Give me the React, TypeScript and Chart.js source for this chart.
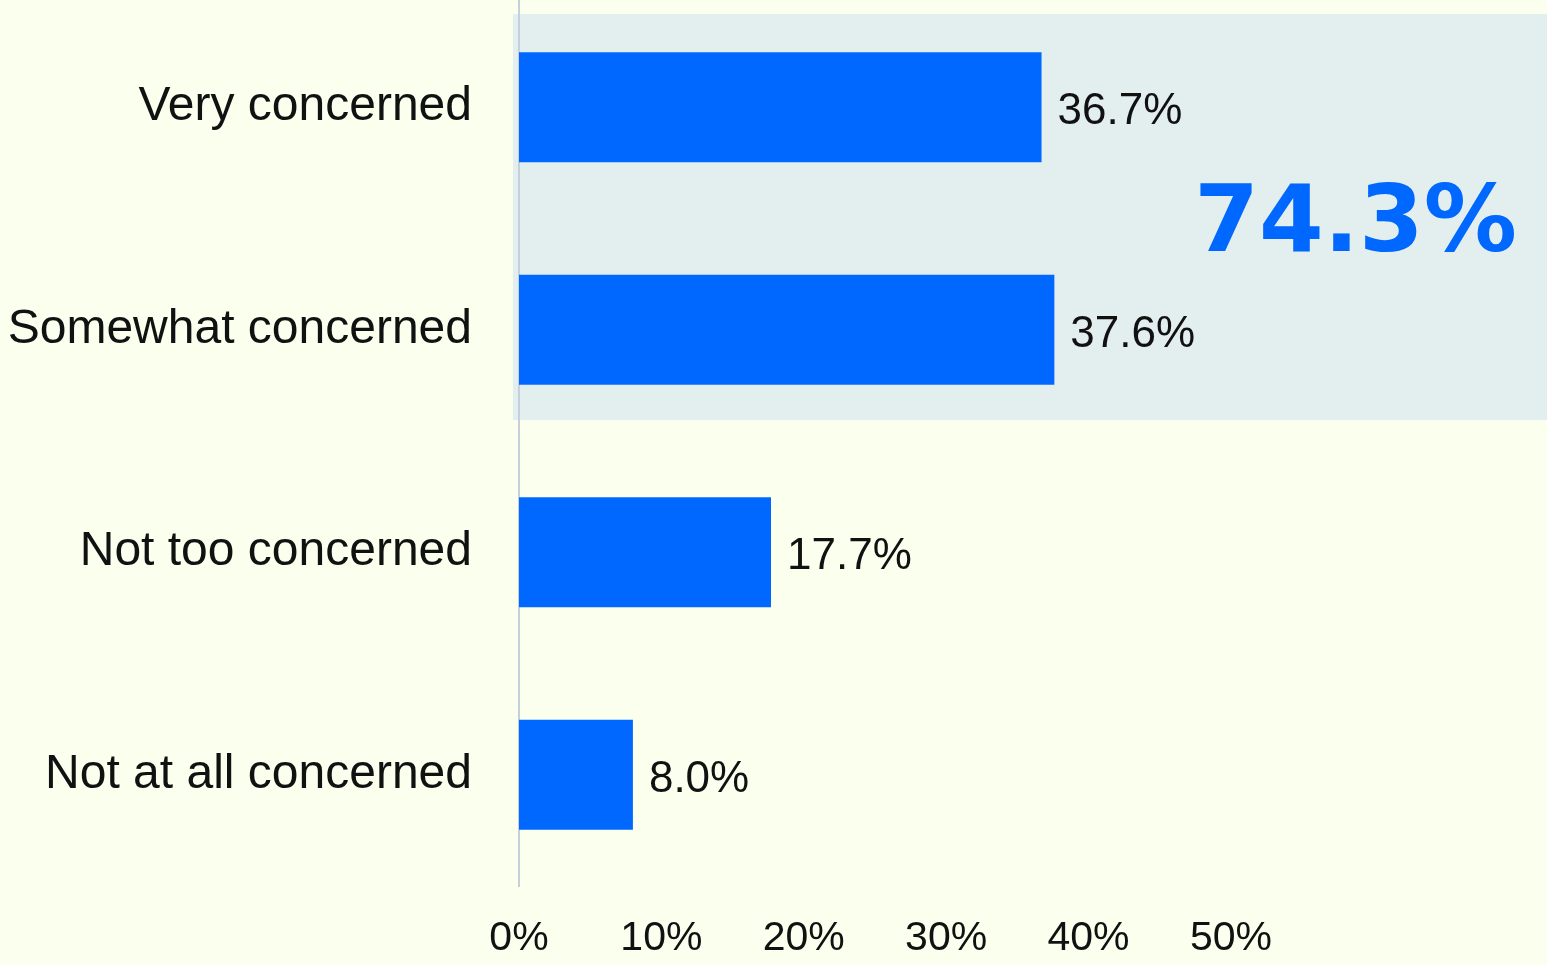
import React, { useEffect, useRef } from "react";
import { Chart, registerables } from "chart.js";

Chart.register(...registerables);

const categories = ["Very concerned", "Somewhat concerned", "Not too concerned", "Not at all concerned"];
const values = [36.7, 37.6, 17.7, 8.0];
const tickValues = [0, 10, 20, 30, 40, 50];
const highlightIndexes = [0, 1];

const BG = "#fbffee";
const BOX = "#e3efee";
const BLUE = "#0068ff";
const AXIS = "#c8cfdc";
const TEXT = "#111111";

export default function App() {
  const ref = useRef<HTMLCanvasElement | null>(null);

  useEffect(() => {
    if (!ref.current) return;
    const highlightTotal = highlightIndexes.reduce((s, i) => s + values[i], 0);

    const bgPlugin = {
      id: "bgAndBox",
      beforeDraw(chart: any) {
        const { ctx, chartArea, scales } = chart;
        ctx.save();
        ctx.fillStyle = BG;
        ctx.fillRect(0, 0, chart.width, chart.height);
        const y = scales.y;
        const band = (chartArea.bottom - chartArea.top) / categories.length;
        const first = y.getPixelForValue(highlightIndexes[0]);
        const last = y.getPixelForValue(highlightIndexes[highlightIndexes.length - 1]);
        const top = first - band * 0.419;
        const bottom = last + band * 0.406;
        ctx.fillStyle = BOX;
        ctx.fillRect(chartArea.left - 6, top, chart.width - (chartArea.left - 6), bottom - top);
        ctx.restore();
      },
      afterDatasetsDraw(chart: any) {
        const { ctx, chartArea, scales } = chart;
        const meta = chart.getDatasetMeta(0);
        ctx.save();
        ctx.fillStyle = TEXT;
        ctx.font = "44px 'Liberation Sans', Arial, sans-serif";
        ctx.textAlign = "left";
        ctx.textBaseline = "middle";
        meta.data.forEach((bar: any, i: number) => {
          ctx.fillText(values[i].toFixed(1) + "%", bar.x + 16, bar.y + 5);
        });
        const y = scales.y;
        const first = y.getPixelForValue(highlightIndexes[0]);
        const last = y.getPixelForValue(highlightIndexes[highlightIndexes.length - 1]);
        ctx.fillStyle = BLUE;
        ctx.font = "bold 93px 'DejaVu Sans', sans-serif";
        ctx.textAlign = "right";
        ctx.textBaseline = "middle";
        ctx.fillText(highlightTotal.toFixed(1) + "%", chartArea.right - 30, (first + last) / 2 + 8);
        ctx.restore();
      },
    };

    const chart = new Chart(ref.current, {
      type: "bar",
      data: {
        labels: categories,
        datasets: [
          {
            data: values,
            backgroundColor: BLUE,
            borderWidth: 0,
            categoryPercentage: 1,
            barPercentage: 0.495,
          },
        ],
      },
      options: {
        indexAxis: "y",
        animation: false,
        responsive: false,
        maintainAspectRatio: false,
        layout: { padding: 0 },
        plugins: { legend: { display: false }, tooltip: { enabled: false }, title: { display: false } },
        scales: {
          x: {
            type: "linear",
            min: 0,
            max: 72.2,
            grid: { display: false, drawTicks: false },
            border: { display: false },
            afterBuildTicks: (scale: any) => {
              scale.ticks = tickValues.map((v) => ({ value: v }));
            },
            afterFit: (scale: any) => {
              scale.height = 79;
              scale.paddingLeft = 0;
              scale.paddingRight = 0;
              scale.paddingTop = 0;
              scale.paddingBottom = 0;
            },
            ticks: {
              padding: 28,
              color: TEXT,
              font: { family: "'Liberation Sans', Arial, sans-serif", size: 41 },
              callback: (v: any) => v + "%",
              maxRotation: 0,
              autoSkip: false,
            },
          },
          y: {
            grid: { display: false, drawTicks: false },
            border: { display: true, color: AXIS, width: 2 },
            afterFit: (scale: any) => {
              scale.width = 519;
              scale.paddingTop = 0;
              scale.paddingBottom = 0;
              scale.paddingLeft = 0;
              scale.paddingRight = 0;
            },
            ticks: {
              padding: 47,
              color: TEXT,
              font: { family: "'Liberation Sans', Arial, sans-serif", size: 48 },
            },
          },
        },
      },
      plugins: [bgPlugin],
    });
    return () => chart.destroy();
  }, []);

  return (
    <div style={{ position: "fixed", left: 0, top: 0, width: 1547, height: 965, background: BG, overflow: "hidden" }}>
      <div style={{ position: "absolute", left: 0, top: -4, width: 1547, height: 969 }}>
        <canvas ref={ref} width={1547} height={969} style={{ display: "block", width: 1547, height: 969 }} />
      </div>
    </div>
  );
}
